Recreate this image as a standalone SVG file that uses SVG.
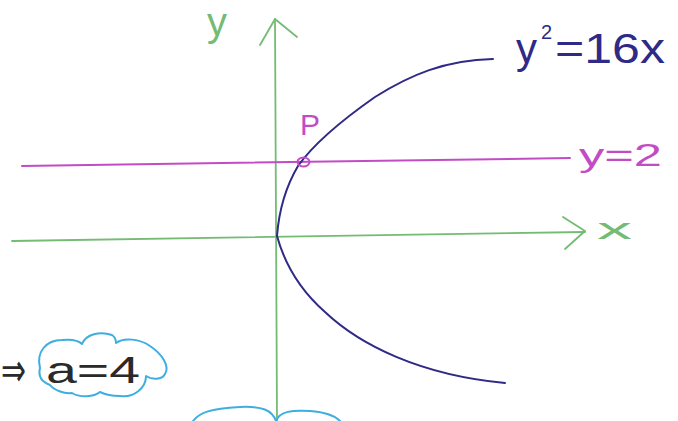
<svg xmlns="http://www.w3.org/2000/svg" width="678" height="421" viewBox="0 0 678 421">
<style>
.ax{fill:none;stroke:#74bb74;stroke-width:1.8;stroke-linecap:round;stroke-linejoin:round}
.mg{fill:none;stroke:#c24cc6;stroke-width:2;stroke-linecap:round}
.cv{fill:none;stroke:#2e2a86;stroke-width:2;stroke-linecap:round}
.cl{fill:none;stroke:#3eaee0;stroke-width:2;stroke-linecap:round;stroke-linejoin:round}
text{font-family:"Liberation Sans",Arial,sans-serif}
.tg{fill:#74bb74}
.tm{fill:#c24cc6}
.tn{fill:#2e2a86}
.tk{fill:#2a2a2a}
</style>
<rect width="678" height="421" fill="#ffffff"/>
<g id="axes">
<path class="ax" d="M275,19 L277,421"/>
<path class="ax" d="M260,45 L275,19 L297,37"/>
<path class="ax" d="M12,241 L585,232"/>
<path class="ax" d="M563,217 L585,231 L565,249"/>
</g>
<g id="line-y2">
<path class="mg" d="M22,166 L570,158"/>
</g>
<g id="parabola">
<path class="cv" d="M277,236 C279,210 285,188 298,166 C315,142 345,118 375,97 C410,75 445,60 493,59"/>
<path class="cv" d="M277,236 C285,265 300,290 325,312 C360,345 420,375 505,383"/>
</g>
<g id="point-P">
<ellipse cx="303.5" cy="162" rx="6" ry="4.5" fill="none" stroke="#c24cc6" stroke-width="2"/>
<text class="tm" x="300" y="135" font-size="30">P</text>
</g>
<g id="labels">
<text class="tg" x="207" y="36" font-size="40">y</text>
<text class="tg" x="597" y="239" font-size="30" textLength="35" lengthAdjust="spacingAndGlyphs">x</text>
<text class="tm" x="579" y="166" font-size="31" textLength="83" lengthAdjust="spacingAndGlyphs">y=2</text>
<text class="tn" x="516" y="63" font-size="42">y</text>
<text class="tn" x="541" y="39" font-size="20">2</text>
<text class="tn" x="555" y="63" font-size="42" textLength="110" lengthAdjust="spacingAndGlyphs">=16x</text>
</g>
<g id="result">
<text class="tk" x="1" y="386" font-size="46" textLength="25" lengthAdjust="spacingAndGlyphs" style="font-family:'DejaVu Sans',sans-serif">⇒</text>
<path class="cl" d="M40,368 C36,352 46,340 62,340 C72,339 78,340 82,344 C86,334 100,331 112,335 C115,337 116,340 116,343 C124,337 140,339 150,346 C162,354 170,366 165,374 C162,380 152,380 146,376 C146,388 134,398 120,396 C110,396 102,393 100,392 C94,397 80,398 72,393 C64,394 54,390 50,385 C42,382 38,376 40,368 Z"/>
<text class="tk" x="46" y="383" font-size="36" textLength="94" lengthAdjust="spacingAndGlyphs">a=4</text>
</g>
<g id="cloud-bottom">
<path class="cl" d="M193,421 C200,412 210,409 240,407 C262,406 272,410 276,421 C280,411 292,410 310,411 C325,412 335,416 340,421"/>
</g>
</svg>
